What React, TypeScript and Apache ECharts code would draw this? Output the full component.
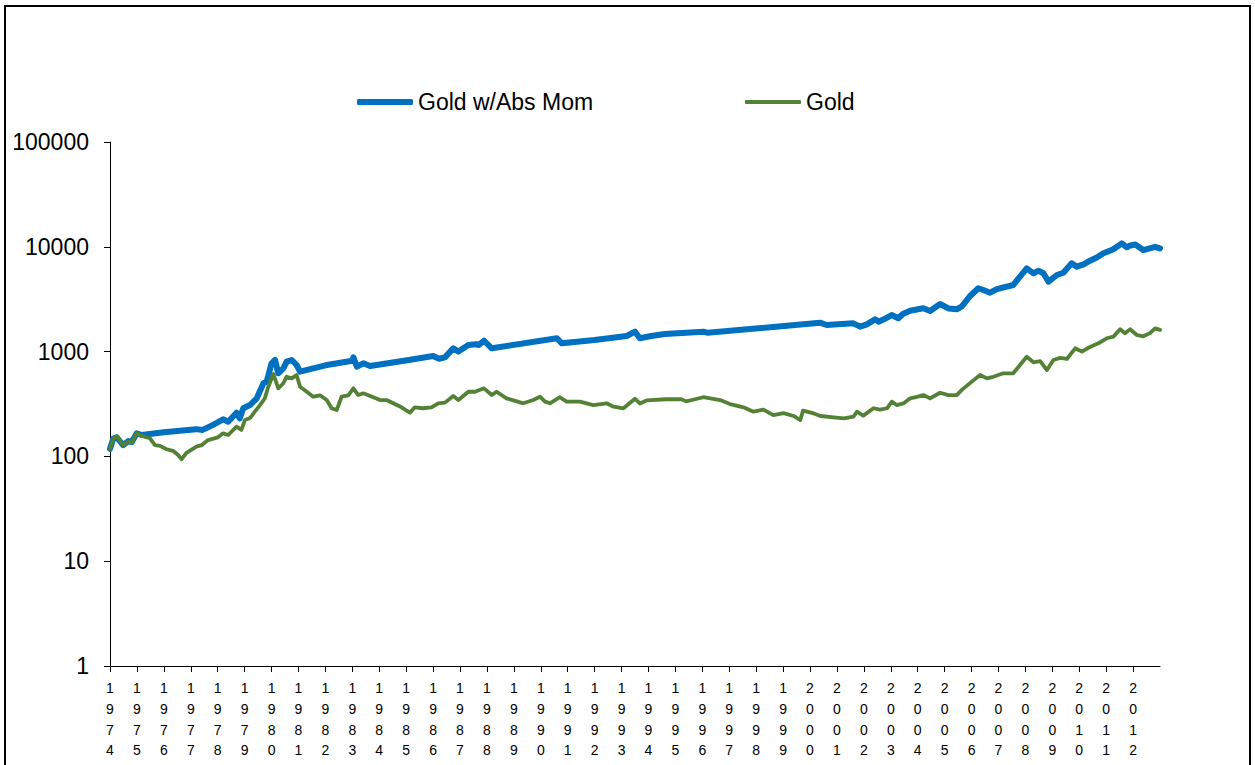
import React, { useEffect, useRef } from "react";
import * as echarts from "echarts";

const seriesNames = ["Gold w/Abs Mom", "Gold"];

const momYears = [
  1974.0, 1974.12, 1974.25, 1974.49, 1974.68, 1974.81, 1974.99, 1975.18, 1976.0, 1977.2,
  1977.44, 1977.81, 1978.2, 1978.39, 1978.7, 1978.82, 1978.95, 1979.2, 1979.45, 1979.7,
  1979.82, 1980.0, 1980.13, 1980.25, 1980.44, 1980.56, 1980.75, 1980.93, 1981.06, 1982.0,
  1983.0, 1983.04, 1983.17, 1983.41, 1983.66, 1985.1, 1986.0, 1986.22, 1986.44, 1986.75,
  1986.94, 1987.31, 1987.59, 1987.7, 1987.89, 1988.18, 1990.6, 1990.78, 1992.0, 1993.19,
  1993.5, 1993.68, 1994.1, 1994.6, 1996.04, 1996.2, 2000.37, 2000.62, 2001.61, 2001.86,
  2002.11, 2002.42, 2002.55, 2002.74, 2003.03, 2003.28, 2003.45, 2003.72, 2004.21, 2004.46,
  2004.83, 2005.14, 2005.45, 2005.64, 2005.95, 2006.25, 2006.44, 2006.69, 2006.94, 2007.55,
  2007.8, 2008.05, 2008.3, 2008.48, 2008.67, 2008.86, 2009.17, 2009.41, 2009.72, 2009.91,
  2010.16, 2010.4, 2010.65, 2010.9, 2011.27, 2011.58, 2011.77, 2011.89, 2012.08, 2012.38,
  2012.82, 2013.0,
];
const momValues = [
  118, 148, 152, 128, 140, 137, 166, 160, 170, 182,
  179, 199, 226, 214, 261, 231, 288, 309, 358, 499,
  517, 773, 831, 621, 692, 802, 831, 745, 643, 740,
  819, 881, 718, 773, 729, 830, 908, 855, 881, 1075,
  1000, 1156, 1175, 1156, 1271, 1075, 1340, 1199, 1290, 1409,
  1549, 1340, 1409, 1472, 1549, 1510, 1888, 1795, 1860, 1730,
  1820, 2033, 1930, 2033, 2234, 2080, 2286, 2455, 2588, 2444,
  2845, 2583, 2534, 2700, 3394, 4020, 3870, 3648, 3940, 4323,
  5188, 6236, 5588, 5900, 5600, 4647, 5383, 5650, 6956, 6465,
  6800, 7370, 7900, 8670, 9470, 10790, 9900, 10300, 10500, 9310,
  10000, 9660,
];

const goldYears = [
  1974.0, 1974.12, 1974.25, 1974.49, 1974.68, 1974.81, 1974.99, 1975.18, 1975.48, 1975.67,
  1975.86, 1976.1, 1976.34, 1976.53, 1976.66, 1976.84, 1977.21, 1977.4, 1977.64, 1978.01,
  1978.2, 1978.39, 1978.7, 1978.88, 1979.01, 1979.2, 1979.38, 1979.57, 1979.75, 1979.88,
  1980.07, 1980.25, 1980.44, 1980.56, 1980.75, 1980.93, 1981.06, 1981.31, 1981.55, 1981.8,
  1982.05, 1982.23, 1982.42, 1982.6, 1982.85, 1983.04, 1983.22, 1983.41, 1983.78, 1984.03,
  1984.27, 1984.52, 1984.83, 1985.14, 1985.32, 1985.63, 1985.94, 1986.19, 1986.44, 1986.75,
  1986.94, 1987.31, 1987.56, 1987.89, 1988.18, 1988.36, 1988.73, 1989.35, 1989.72, 1989.97,
  1990.16, 1990.34, 1990.71, 1990.96, 1991.45, 1991.95, 1992.45, 1992.7, 1993.07, 1993.5,
  1993.68, 1993.93, 1994.66, 1995.22, 1995.4, 1996.04, 1996.66, 1997.03, 1997.53, 1997.9,
  1998.27, 1998.64, 1999.02, 1999.39, 1999.64, 1999.74, 2000.14, 2000.39, 2000.88, 2001.26,
  2001.62, 2001.74, 2001.98, 2002.36, 2002.6, 2002.86, 2003.04, 2003.22, 2003.47, 2003.72,
  2003.97, 2004.21, 2004.46, 2004.83, 2005.14, 2005.45, 2005.64, 2006.01, 2006.32, 2006.57,
  2006.81, 2007.18, 2007.55, 2007.8, 2008.05, 2008.3, 2008.55, 2008.8, 2009.04, 2009.29,
  2009.54, 2009.85, 2010.1, 2010.4, 2010.71, 2011.02, 2011.27, 2011.52, 2011.7, 2011.89,
  2012.14, 2012.38, 2012.63, 2012.82, 2013.0,
];
const goldValues = [
  118, 148, 155, 128, 138, 135, 166, 157, 149, 128,
  126, 117, 113, 103, 94, 108, 124, 128, 143, 152,
  166, 160, 192, 179, 222, 232, 267, 309, 358, 462,
  611, 446, 499, 576, 555, 598, 462, 414, 371, 383,
  345, 288, 277, 371, 383, 446, 385, 400, 367, 345,
  345, 321, 294, 261, 294, 288, 294, 321, 326, 377,
  345, 414, 414, 446, 385, 414, 358, 321, 345, 371,
  333, 321, 367, 333, 333, 309, 321, 298, 288, 355,
  320, 342, 351, 351, 335, 367, 345, 316, 294, 267,
  279, 248, 259, 243, 222, 273, 257, 243, 236, 231,
  240, 267, 245, 288, 280, 288, 333, 309, 320, 358,
  370, 385, 358, 405, 385, 385, 431, 517, 598, 555,
  575, 621, 621, 745, 894, 790, 810, 667, 831, 870,
  850, 1075, 1000, 1109, 1200, 1340, 1390, 1633, 1500, 1633,
  1440, 1400, 1500, 1667, 1610,
];

const yearMin = 1974;
const yearMax = 2013;

const FONT = "'Liberation Sans', Arial, sans-serif";
const BLUE = "#0070C0";
const GREEN = "#538135";

export default function App() {
  const ref = useRef<HTMLDivElement>(null);

  useEffect(() => {
    if (!ref.current) return;
    const chart = echarts.init(ref.current, undefined, { renderer: "svg" });
    const zip = (xs: number[], ys: number[]) => xs.map((x, i) => [x, ys[i]]);
    const legendText = { fontSize: 23, color: "#000", fontFamily: FONT, lineHeight: 26 };

    chart.setOption({
      animation: false,
      backgroundColor: "#ffffff",
      textStyle: { fontFamily: FONT },
      graphic: [
        {
          type: "rect",
          shape: { x: 5, y: 6, width: 1245, height: 800 },
          style: { fill: "none", stroke: "#000", lineWidth: 2 },
          silent: true,
        },
      ],
      legend: [
        {
          data: [seriesNames[0]],
          left: 357,
          top: 89,
          padding: 0,
          itemWidth: 56,
          itemHeight: 6,
          itemGap: 0,
          icon: "roundRect",
          textStyle: legendText,
        },
        {
          data: [seriesNames[1]],
          left: 745,
          top: 89,
          padding: 0,
          itemWidth: 56,
          itemHeight: 4,
          itemGap: 0,
          icon: "roundRect",
          textStyle: legendText,
        },
      ],
      grid: { left: 110, top: 142, width: 1050, height: 524, containLabel: false },
      xAxis: {
        type: "value",
        min: yearMin,
        max: yearMax,
        interval: 1,
        axisLine: { show: true, lineStyle: { color: "#000", width: 1 } },
        axisTick: { show: true, length: 6, lineStyle: { color: "#000" } },
        splitLine: { show: false },
        axisLabel: {
          color: "#000",
          fontSize: 14,
          lineHeight: 20.7,
          fontFamily: FONT,
          margin: 12,
          showMaxLabel: false,
          formatter: (v: number) => {
            const r = Math.round(v);
            if (r >= yearMax || Math.abs(v - r) > 1e-6) return "";
            return String(r).split("").join("\n");
          },
        },
      },
      yAxis: {
        type: "log",
        logBase: 10,
        min: 1,
        max: 100000,
        axisLine: { show: true, lineStyle: { color: "#000", width: 1 } },
        axisTick: { show: true, length: 6, lineStyle: { color: "#000" } },
        splitLine: { show: false },
        axisLabel: {
          color: "#000",
          fontSize: 23,
          fontFamily: FONT,
          margin: 21,
          formatter: (v: number) => String(Math.round(v)),
        },
      },
      series: [
        {
          name: seriesNames[0],
          type: "line",
          data: zip(momYears, momValues),
          showSymbol: false,
          symbol: "none",
          color: BLUE,
          lineStyle: { color: BLUE, width: 6, cap: "round", join: "round" },
        },
        {
          name: seriesNames[1],
          type: "line",
          data: zip(goldYears, goldValues),
          showSymbol: false,
          symbol: "none",
          color: GREEN,
          lineStyle: { color: GREEN, width: 3.8, cap: "round", join: "round" },
        },
      ],
    });

    return () => chart.dispose();
  }, []);

  return (
    <div
      ref={ref}
      style={{ position: "fixed", left: 0, top: 0, width: 1255, height: 765, background: "#fff" }}
    />
  );
}
